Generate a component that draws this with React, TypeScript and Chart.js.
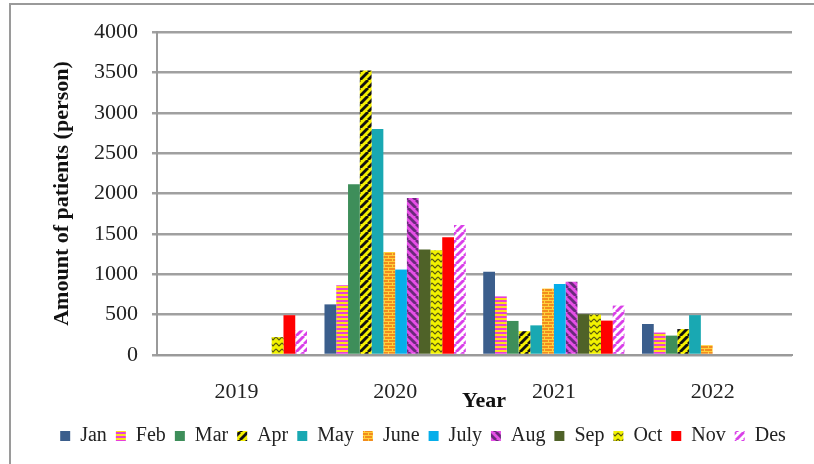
import React, { useEffect, useRef } from "react";
import { Chart, registerables } from "chart.js";

Chart.register(...registerables);

const years = ["2019", "2020", "2021", "2022"];
const months = ["Jan", "Feb", "Mar", "Apr", "May", "June", "July", "Aug", "Sep", "Oct", "Nov", "Des"];

const jan = [null, 627, 1030, 384];
const feb = [null, 865, 726, 278];
const mar = [null, 2115, 422, 240];
const apr = [null, 3524, 295, 321];
const may = [null, 2800, 367, 494];
const june = [null, 1275, 823, 122];
const july = [null, 1058, 878, null];
const aug = [null, 1944, 907, null];
const sep = [null, 1308, 506, null];
const oct = [222, 1296, 502, null];
const nov = [493, 1459, 426, null];
const des = [305, 1609, 612, null];

const yTicks = [0, 500, 1000, 1500, 2000, 2500, 3000, 3500, 4000];

const FONT = "'Liberation Serif', 'Times New Roman', serif";

function makeCanvas(w: number, h: number) {
  const c = document.createElement("canvas");
  c.width = w;
  c.height = h;
  return c;
}

function diagPattern(a: string, b: string, s: number, dir: 1 | -1) {
  const c = makeCanvas(s, s);
  const g = c.getContext("2d")!;
  g.fillStyle = a;
  g.fillRect(0, 0, s, s);
  g.strokeStyle = b;
  g.lineWidth = s * 0.36;
  for (const k of [-s, 0, s]) {
    g.beginPath();
    if (dir === 1) {
      g.moveTo(k, s);
      g.lineTo(k + s, 0);
    } else {
      g.moveTo(k, 0);
      g.lineTo(k + s, s);
    }
    g.stroke();
  }
  return g.createPattern(c, "repeat")!;
}

function hStripes(a: string, b: string) {
  const c = makeCanvas(4, 4);
  const g = c.getContext("2d")!;
  g.fillStyle = a;
  g.fillRect(0, 0, 4, 2);
  g.fillStyle = b;
  g.fillRect(0, 2, 4, 2);
  return g.createPattern(c, "repeat")!;
}

function brick() {
  const c = makeCanvas(8, 6);
  const g = c.getContext("2d")!;
  g.fillStyle = "#F28C1E";
  g.fillRect(0, 0, 8, 6);
  g.fillStyle = "#FFD23A";
  g.fillRect(0, 0, 8, 1);
  g.fillRect(0, 3, 8, 1);
  g.fillRect(0, 0, 1, 3);
  g.fillRect(4, 3, 1, 3);
  return g.createPattern(c, "repeat")!;
}

function zigzag() {
  const c = makeCanvas(6, 6);
  const g = c.getContext("2d")!;
  g.fillStyle = "#F2F200";
  g.fillRect(0, 0, 6, 6);
  g.strokeStyle = "#5A5A10";
  g.lineWidth = 1.2;
  g.beginPath();
  g.moveTo(0, 1);
  g.lineTo(3, 4);
  g.lineTo(6, 1);
  g.stroke();
  return g.createPattern(c, "repeat")!;
}

export default function App() {
  const ref = useRef<HTMLCanvasElement | null>(null);

  useEffect(() => {
    const canvas = ref.current!;
    const fills: any[] = [
      "#3B5E8C",
      hStripes("#E83ED8", "#FFE11A"),
      "#3E8E5A",
      diagPattern("#F5F000", "#111111", 8, 1),
      "#19A8B2",
      brick(),
      "#06AEEA",
      diagPattern("#E64FE6", "#6B2A7C", 8, -1),
      "#4F6228",
      zigzag(),
      "#FF0000",
      diagPattern("#FFFFFF", "#D940E8", 8, 1),
    ];
    const series = [jan, feb, mar, apr, may, june, july, aug, sep, oct, nov, des];

    const framePlugin = {
      id: "frame",
      afterLayout(chart: any) {
        if (chart.legend) {
          chart.legend.left += 27;
          chart.legend.right += 27;
        }
      },
      afterDraw(chart: any) {
        const ctx = chart.ctx;
        ctx.save();
        ctx.strokeStyle = "#9a9a9a";
        ctx.lineWidth = 2;
        ctx.beginPath();
        ctx.moveTo(10, 464);
        ctx.lineTo(10, 4);
        ctx.lineTo(814, 4);
        ctx.stroke();
        ctx.fillStyle = "#111";
        ctx.font = `bold 22px ${FONT}`;
        ctx.textAlign = "center";
        ctx.textBaseline = "middle";
        ctx.fillText("Year", 484, 401);
        ctx.restore();
      },
    };

    const chart = new Chart(canvas, {
      type: "bar",
      data: {
        labels: years,
        datasets: months.map((m, i) => ({
          label: m,
          data: series[i],
          backgroundColor: fills[i],
          borderWidth: 0,
          categoryPercentage: 0.89,
          barPercentage: 1,
        })),
      },
      options: {
        responsive: false,
        animation: false,
        devicePixelRatio: 1,
        layout: { padding: { left: 0, top: 32, right: 22, bottom: 8 } },
        plugins: {
          tooltip: { enabled: false },
          legend: {
            position: "bottom",
            labels: {
              boxWidth: 10,
              boxHeight: 10,
              padding: 9,
              color: "#222",
              font: { family: FONT, size: 20 },
            },
          },
        },
        scales: {
          x: {
            grid: { display: false },
            border: { display: true, color: "#9a9a9a", width: 2 },
            ticks: { color: "#222", font: { family: FONT, size: 22 }, padding: 16 },
            afterFit(s: any) {
              s.height = 62;
            },
          },
          y: {
            min: 0,
            max: 4000,
            afterBuildTicks(s: any) {
              s.ticks = yTicks.map((v) => ({ value: v }));
            },
            grid: { color: "#a0a0a0", lineWidth: 2.5, tickLength: 5, drawTicks: true },
            border: { display: true, color: "#9a9a9a", width: 2 },
            ticks: {
              color: "#222",
              font: { family: FONT, size: 22 },
              padding: 14,
              callback: (v: any) => String(v),
            },
            title: {
              display: true,
              text: "Amount of patients (person)",
              color: "#111",
              font: { family: FONT, size: 22, weight: "bold" },
              padding: { top: 49, bottom: 0 },
            },
            afterFit(s: any) {
              s.width = 157;
            },
          },
        },
      },
      plugins: [framePlugin],
    });
    return () => chart.destroy();
  }, []);

  return (
    <div style={{ position: "fixed", left: 0, top: 0, width: 814, height: 464, background: "#fff" }}>
      <canvas ref={ref} width={814} height={464} />
    </div>
  );
}
